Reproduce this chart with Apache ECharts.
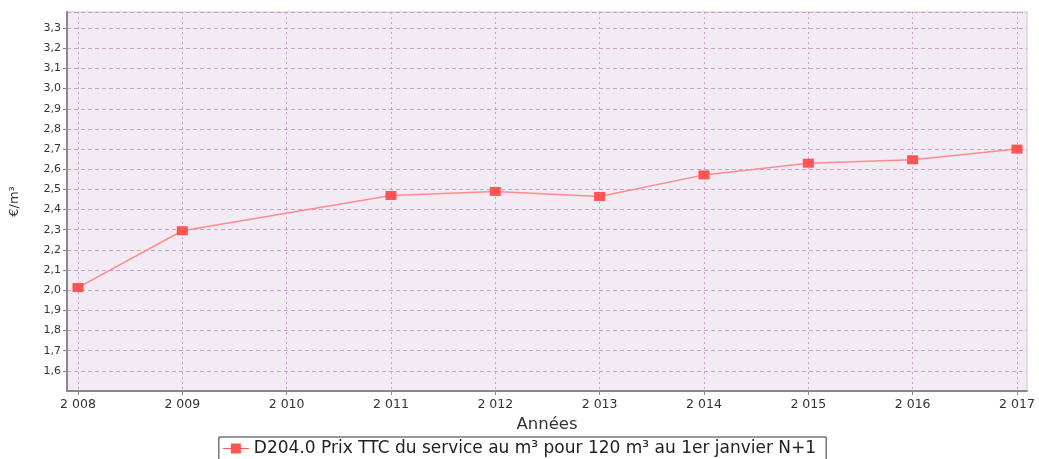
<!DOCTYPE html>
<html><head><meta charset="utf-8">
<script src="https://cdn.jsdelivr.net/npm/echarts@6/dist/echarts.min.js"></script>
<style>html,body{margin:0;padding:0;background:#fff;overflow:hidden}#c{width:1039px;height:459px}</style>
</head><body><div id="c"></div>
<script>
const years = [2008, 2009, 2011, 2012, 2013, 2014, 2015, 2016, 2017];
const prices = [2.013, 2.295, 2.47, 2.49, 2.465, 2.572, 2.63, 2.647, 2.70];
const xTicks = [2008, 2009, 2010, 2011, 2012, 2013, 2014, 2015, 2016, 2017];
const seriesName = 'D204.0 Prix TTC du service au m³ pour 120 m³ au 1er janvier N+1';
const xName = 'Années';
const yName = '€/m³';

const font = 'DejaVu Sans';
const chart = echarts.init(document.getElementById('c'));
chart.setOption({
  animation: false,
  backgroundColor: '#ffffff',
  textStyle: { fontFamily: font },
  grid: { left: 67, right: 12, top: 12, bottom: 68, show: true, backgroundColor: '#f3ebf4', borderColor: '#c8c8c8', borderWidth: 1, containLabel: false },
  xAxis: {
    type: 'value', min: 2007.895, max: 2017.096,
    name: xName, nameLocation: 'middle', nameGap: 14,
    nameTextStyle: { fontFamily: font, fontSize: 16.5, color: '#333' },
    axisLine: { show: true, lineStyle: { color: '#888', width: 2 } },
    axisTick: { show: true, customValues: xTicks, length: 4, lineStyle: { color: '#888' } },
    axisLabel: { customValues: xTicks, fontFamily: font, fontSize: 12.5, color: '#333', margin: 7,
      formatter: v => String(Math.round(v)).replace(/\B(?=(\d{3})+(?!\d))/g, ' ') },
    splitLine: { show: true, lineStyle: { color: '#c9a3cc', type: [2, 3], width: 1 } }
  },
  yAxis: {
    type: 'value', min: 1.5, max: 3.38, interval: 0.1,
    name: yName, nameLocation: 'middle', nameGap: 46, nameRotate: 90,
    nameTextStyle: { fontFamily: font, fontSize: 13, color: '#333' },
    axisLine: { show: true, lineStyle: { color: '#888', width: 2 } },
    axisTick: { show: true, length: 4, lineStyle: { color: '#888' } },
    axisLabel: { showMinLabel: false, showMaxLabel: false, fontFamily: font, fontSize: 11, color: '#333', margin: 6,
      formatter: v => v.toFixed(1).replace('.', ',') },
    splitLine: { show: true, lineStyle: { color: '#c9a3cc', type: [4, 3], width: 1 } }
  },
  legend: {
    show: true, top: 437, left: 'center',
    borderColor: '#333', borderWidth: 1, padding: [3, 10, 8, 4], itemGap: 6,
    itemWidth: 26, itemHeight: 10,
    textStyle: { fontFamily: font, fontSize: 17, color: '#222' },
    data: [{ name: seriesName, icon: 'path://M0,4.5 L8,4.5 L8,0 L18,0 L18,4.5 L26,4.5 L26,5.5 L18,5.5 L18,10 L8,10 L8,5.5 L0,5.5 Z', itemStyle: { color: '#ff5555' } }]
  },
  series: [{
    name: seriesName, type: 'line',
    data: years.map((y, i) => [y, prices[i]]),
    symbol: 'rect', symbolSize: [11, 9],
    lineStyle: { color: '#ff8c8c', width: 1.5 },
    itemStyle: { color: '#ff5454' }
  }]
});
</script></body></html>
